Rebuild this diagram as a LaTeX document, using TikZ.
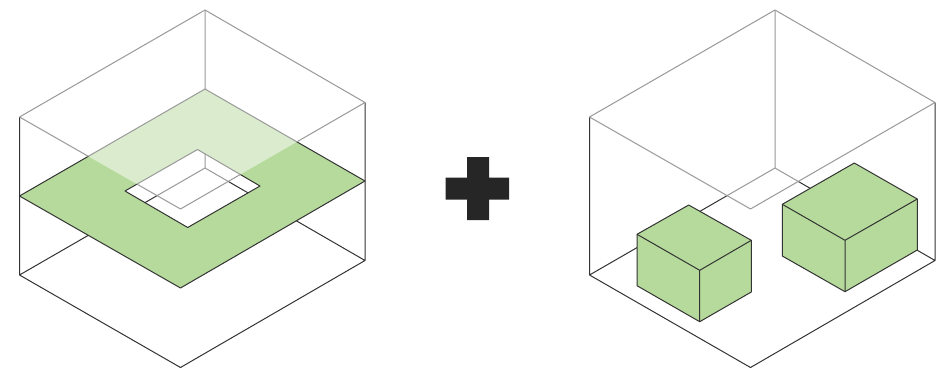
\documentclass[tikz,border=0pt]{standalone}
\definecolor{wire}{HTML}{333333}
\definecolor{wirelight}{HTML}{999999}
\definecolor{leaf}{HTML}{B6DA9C}
\definecolor{plus}{HTML}{262626}
\tikzset{
  wireline/.style={draw=wire,line width=1pt,line join=round},
  topline/.style={draw=wirelight,line width=1pt,line join=round},
  greenface/.style={wireline,fill=leaf},
  veil/.style={fill=white,fill opacity=0.5,draw=none}
}
\begin{document}
\begin{tikzpicture}[x=1pt,y=-1pt]
\useasboundingbox (0,0) rectangle (942,370);
% ---------- left box
\coordinate (aT) at (205,10);
\coordinate (aR) at (365,102.5);
\coordinate (aL) at (19.5,117);
\coordinate (aF) at (180.5,209);
\coordinate (aTb) at (205,168);
\coordinate (aRb) at (365,260.5);
\coordinate (aLb) at (19.5,275);
\coordinate (aFb) at (180.5,367.5);
\coordinate (pL) at (19.5,196);
\coordinate (pB) at (205,89);
\coordinate (pR) at (365,181);
\coordinate (pF) at (180.5,288);
\coordinate (hB) at (197.5,149.5);
\coordinate (hR) at (260,186);
\coordinate (hF) at (187.7,227.5);
\coordinate (hL) at (125,191);
\path[wireline] (aLb) -- (aFb) -- (aRb) -- (aR) (aL) -- (aLb)
  (aLb) -- (aTb) -- (aRb) (aT) -- (aTb);
\path[greenface,even odd rule] (pL) -- (pB) -- (pR) -- (pF) -- cycle
  (hB) -- (hR) -- (hF) -- (hL) -- cycle;
\path[veil] (aT) -- (aR) -- (aF) -- (aL) -- cycle;
\coordinate (x1) at (intersection of aL--aF and pL--pB);
\coordinate (x2) at (intersection of aL--aF and hL--hB);
\coordinate (x3) at (intersection of aR--aF and hR--hB);
\coordinate (x4) at (intersection of aR--aF and pR--pB);
\path[topline] (aL) -- (aT) -- (aR) -- (x4) (x3) -- (aF) -- (x2) (x1) -- (aL);
% ---------- plus
\fill[plus] (467,157) -- (489,157) -- (489,177.7) -- (509,177.7) -- (509,199.7)
  -- (489,199.7) -- (489,220) -- (467,220) -- (467,199.7) -- (445.7,199.7)
  -- (445.7,177.7) -- (467,177.7) -- cycle;
% ---------- right box
\coordinate (bT) at (775,10);
\coordinate (bR) at (935,102.5);
\coordinate (bL) at (589.5,117);
\coordinate (bF) at (750.5,209);
\coordinate (bTb) at (775,168);
\coordinate (bRb) at (935,260.5);
\coordinate (bLb) at (589.5,275);
\coordinate (bFb) at (750.5,367.5);
\path[wireline] (bLb) -- (bFb) -- (bRb) -- (bR) (bL) -- (bLb)
  (bLb) -- (bTb) -- (bRb) (bT) -- (bTb);
\path[veil] (bT) -- (bR) -- (bF) -- (bL) -- cycle;
\path[topline] (bL) -- (bT) -- (bR) -- (bF) -- cycle;
% small cube
\coordinate (cB) at (688.7,205);
\coordinate (cL) at (637,234.3);
\coordinate (cR) at (751.3,240.3);
\coordinate (cF) at (699.7,270.3);
\coordinate (cLb) at (637,285.7);
\coordinate (cRb) at (751.3,292);
\coordinate (cFb) at (699.7,321.7);
\path[greenface] (cB) -- (cR) -- (cRb) -- (cFb) -- (cLb) -- (cL) -- cycle;
\path[wireline] (cL) -- (cF) -- (cR) (cF) -- (cFb);
% large cube
\coordinate (dB) at (854.3,163);
\coordinate (dL) at (782.3,204.3);
\coordinate (dR) at (917.3,199);
\coordinate (dF) at (845,240.3);
\coordinate (dLb) at (782.3,256);
\coordinate (dRb) at (917.3,250);
\coordinate (dFb) at (845,291.7);
\path[greenface] (dB) -- (dR) -- (dRb) -- (dFb) -- (dLb) -- (dL) -- cycle;
\path[wireline] (dL) -- (dF) -- (dR) (dF) -- (dFb);
\end{tikzpicture}
\end{document}
